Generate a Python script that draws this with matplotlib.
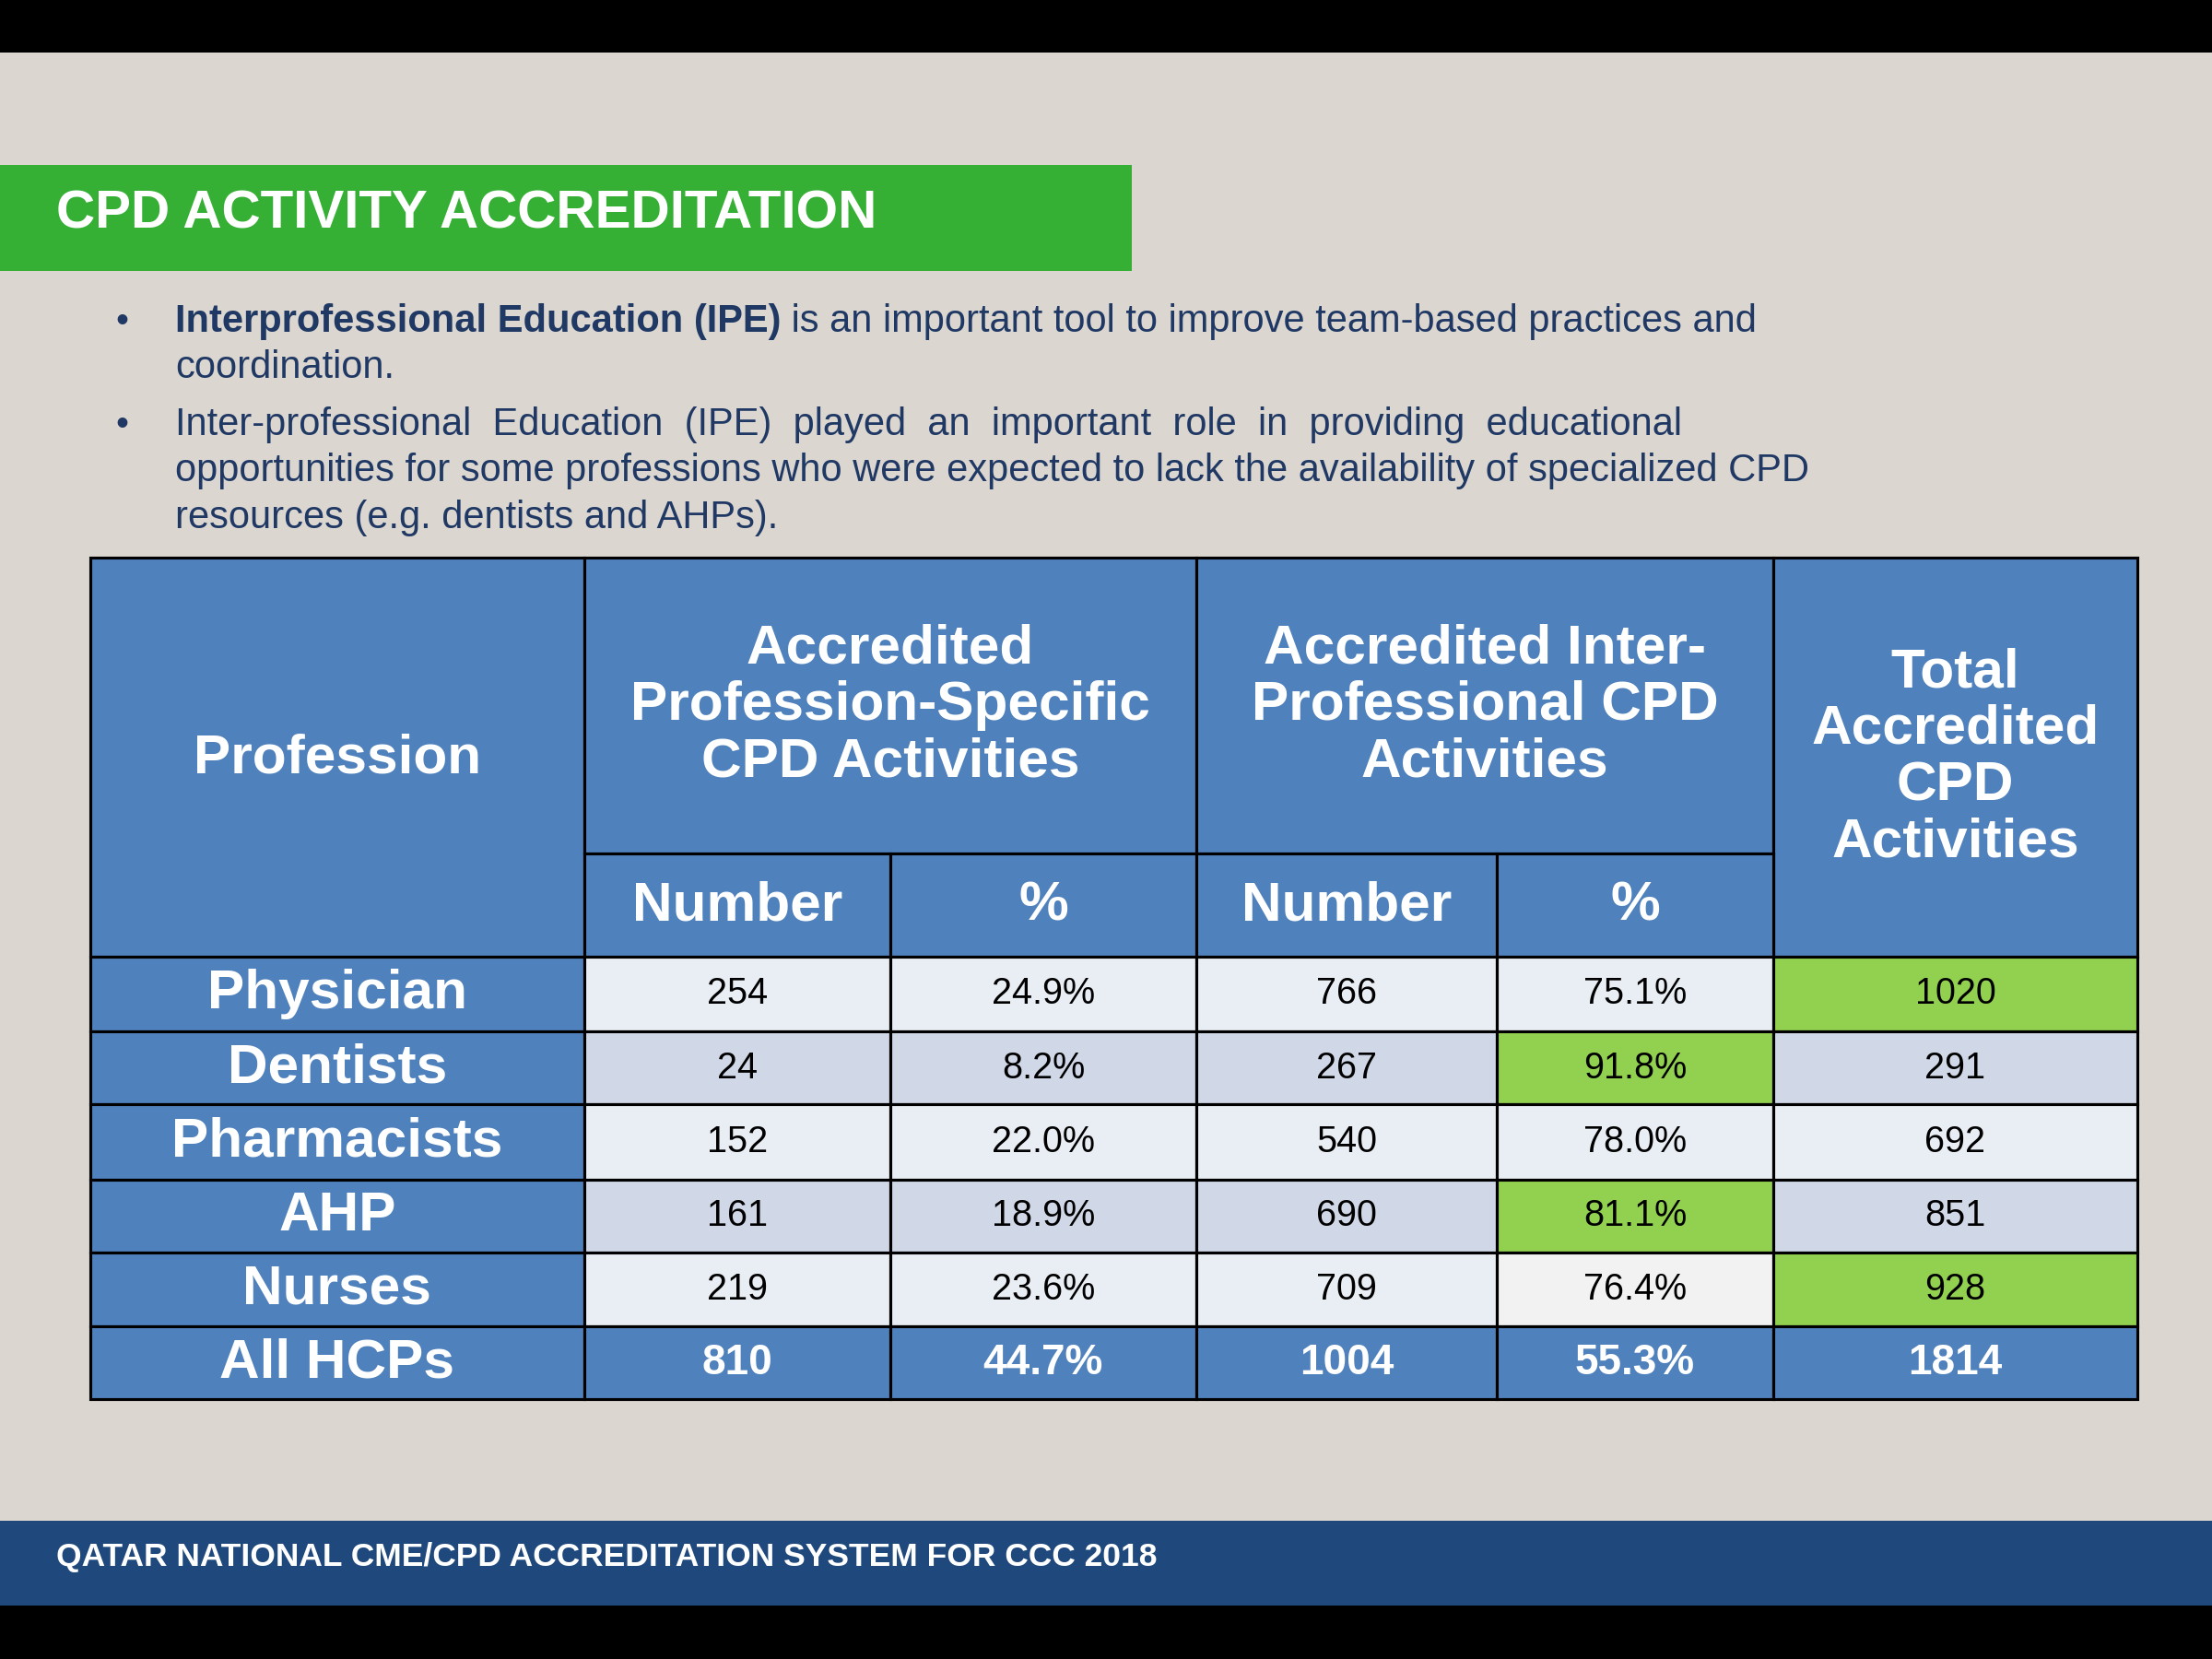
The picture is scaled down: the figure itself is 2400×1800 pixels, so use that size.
import matplotlib.pyplot as plt
from matplotlib.patches import Rectangle

professions = ["Physician", "Dentists", "Pharmacists", "AHP", "Nurses"]
spec_num = ["254", "24", "152", "161", "219"]
spec_pct = ["24.9%", "8.2%", "22.0%", "18.9%", "23.6%"]
ipe_num = ["766", "267", "540", "690", "709"]
ipe_pct = ["75.1%", "91.8%", "78.0%", "81.1%", "76.4%"]
total = ["1020", "291", "692", "851", "928"]
all_row = ["All HCPs", "810", "44.7%", "1004", "55.3%", "1814"]
# (row, col) cells highlighted green
highlight = [(0, 5), (1, 4), (3, 4), (4, 5)]

bullets = [
    [("Interprofessional Education (IPE)", "bold"), (" is an important tool to improve team-based practices and", "normal")],
    [("coordination.", "normal")],
    [("Inter-professional  Education  (IPE)  played  an  important  role  in  providing  educational", "normal")],
    [("opportunities for some professions who were expected to lack the availability of specialized CPD", "normal")],
    [("resources (e.g. dentists and AHPs).", "normal")],
]

W, H = 1568, 1176
BG = "#dbd6cf"
BLUE = "#4f81bd"
NAVY = "#1f3864"
GREEN = "#92d050"
plt.rcParams['font.family'] = ['Liberation Sans', 'DejaVu Sans']

fig = plt.figure(figsize=(16, 12), dpi=150)
ax = fig.add_axes([0, 0, 1, 1])
ax.set_xlim(0, W)
ax.set_ylim(H, 0)
ax.axis("off")

def box(x0, y0, x1, y1, fc, ec="none", lw=0):
    ax.add_patch(Rectangle((x0, y0), x1 - x0, y1 - y0, facecolor=fc, edgecolor=ec, linewidth=lw))

box(0, 0, W, H, BG)
box(0, 0, W, 37, "black")
box(0, 1138, W, H, "black")
box(0, 1078, W, 1138, "#1f497d")
ax.text(40, 1104, "QATAR NATIONAL CME/CPD ACCREDITATION SYSTEM FOR CCC 2018", color="white",
        fontsize=17, fontweight="bold", va="center")

box(0, 117, 802, 192, "#35b035")
ax.text(40, 152, "CPD ACTIVITY ACCREDITATION", color="white", fontsize=28, fontweight="bold", va="center")

# bullets
ys = [228, 261, 301, 334, 367]
for i, (y, parts) in enumerate(zip(ys, bullets)):
    if i in (0, 2):
        ax.text(82, y, "•", color=NAVY, fontsize=19, va="center")
    x = 124
    for txt, wt in parts:
        t = ax.text(x, y, txt, color=NAVY, fontsize=20, fontweight=wt, va="center")
        fig.canvas.draw()
        bb = t.get_window_extent().transformed(ax.transData.inverted())
        x = bb.x1

# table
cols = [64, 414, 631, 848, 1061, 1257, 1515]
rows = [678, 731, 783, 836, 888, 940, 992]
edge = dict(ec="black", lw=1.5)

box(cols[0], 395, cols[1], 678, BLUE, **edge)
box(cols[1], 395, cols[3], 605, BLUE, **edge)
box(cols[3], 395, cols[5], 605, BLUE, **edge)
box(cols[5], 395, cols[6], 678, BLUE, **edge)
for c in range(1, 5):
    box(cols[c], 605, cols[c + 1], 678, BLUE, **edge)

hdr = dict(color="white", fontsize=29, fontweight="bold", ha="center", va="center", linespacing=1.15)
ax.text((cols[0] + cols[1]) / 2, 538, "Profession", **hdr)
ax.text((cols[1] + cols[3]) / 2, 500, "Accredited\nProfession-Specific\nCPD Activities", **hdr)
ax.text((cols[3] + cols[5]) / 2, 500, "Accredited Inter-\nProfessional CPD\nActivities", **hdr)
ax.text((cols[5] + cols[6]) / 2, 537, "Total\nAccredited\nCPD\nActivities", **hdr)
for c, lab in zip(range(1, 5), ["Number", "%", "Number", "%"]):
    ax.text((cols[c] + cols[c + 1]) / 2, 642, lab, **hdr)

data = list(zip(professions, spec_num, spec_pct, ipe_num, ipe_pct, total))
for r, vals in enumerate(data):
    y0, y1 = rows[r], rows[r + 1]
    ym = (y0 + y1) / 2
    box(cols[0], y0, cols[1], y1, BLUE, **edge)
    ax.text((cols[0] + cols[1]) / 2, ym, vals[0], color="white", fontsize=29, fontweight="bold",
            ha="center", va="center")
    fc = "#e9edf4" if r % 2 == 0 else "#d0d8e8"
    for c in range(1, 6):
        f = GREEN if (r, c) in highlight else fc
        if r == 4 and c == 4:
            f = "#f2f2f2"
        box(cols[c], y0, cols[c + 1], y1, f, **edge)
        ax.text((cols[c] + cols[c + 1]) / 2, ym, vals[c], color="black", fontsize=19,
                ha="center", va="center")

y0, y1 = rows[5], rows[6]
for c in range(6):
    box(cols[c], y0, cols[c + 1], y1, BLUE, **edge)
    ax.text((cols[c] + cols[c + 1]) / 2, (y0 + y1) / 2, all_row[c], color="white",
            fontsize=29 if c == 0 else 22, fontweight="bold", ha="center", va="center")

fig.savefig("out.png", dpi=150)
